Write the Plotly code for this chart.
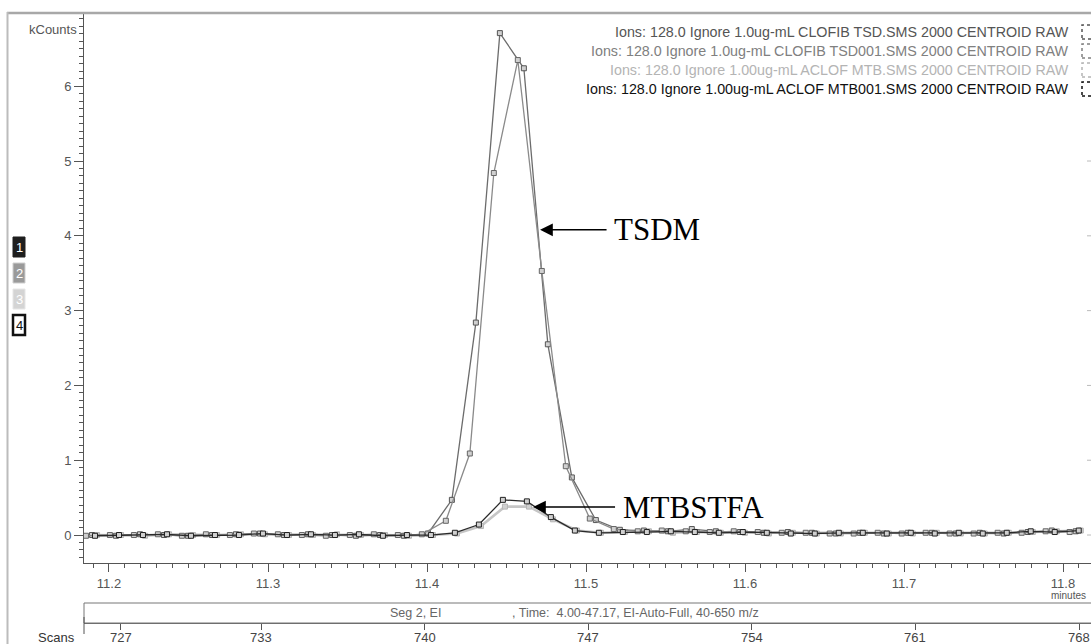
import numpy as np
import plotly.graph_objects as go

# ---------------- data ----------------
scan_interval_min = 0.01509          # minutes between successive scans
rt_start = {"TSD": 11.1893, "TSD001": 11.1855, "MTB": 11.1925, "MTB001": 11.1912}

tsd = [0.00, -0.01, 0.01, 0.00, -0.01, 0.00, 0.01, 0.02, 0.00, 0.01, 0.00, -0.01, 0.00, -0.01,
       0.02, 0.47, 2.84, 6.71, 6.24, 2.55, 0.77, 0.20, 0.07,
       0.06, 0.05, 0.08, 0.05, 0.04, 0.03, 0.04, 0.03, 0.02, 0.03, 0.02, 0.03, 0.03, 0.02, 0.03,
       0.02, 0.04, 0.06, 0.05]
tsd001 = [-0.01, 0.00, 0.00, 0.01, -0.01, 0.01, 0.00, 0.02, 0.01, 0.00, -0.01, 0.00, 0.01, 0.00,
          0.01, 0.19, 1.09, 4.84, 6.35, 3.53, 0.92, 0.22, 0.08,
          0.05, 0.06, 0.05, 0.04, 0.05, 0.04, 0.03, 0.03, 0.02, 0.02, 0.03, 0.02, 0.03, 0.02, 0.02,
          0.03, 0.03, 0.05, 0.04]
mtb = [0.00, 0.00, -0.01, 0.01, 0.00, 0.00, 0.01, 0.01, 0.00, 0.00, 0.01, 0.00, 0.00, -0.01, 0.00,
       0.02, 0.12, 0.38, 0.38, 0.21, 0.06,
       0.03, 0.04, 0.05, 0.03, 0.04, 0.03, 0.03, 0.02, 0.03, 0.02, 0.02, 0.03, 0.02, 0.02, 0.03,
       0.02, 0.02, 0.03, 0.04, 0.05, 0.06]
mtb001 = [-0.01, 0.00, 0.00, 0.01, -0.01, 0.00, 0.00, 0.02, 0.00, 0.01, 0.00, 0.01, -0.01, 0.00, 0.00,
          0.03, 0.14, 0.47, 0.45, 0.24, 0.06,
          0.03, 0.04, 0.04, 0.05, 0.04, 0.03, 0.04, 0.03, 0.02, 0.02, 0.03, 0.03, 0.02, 0.03, 0.02,
          0.03, 0.02, 0.03, 0.05, 0.04, 0.06]

legend_labels = [
    "Ions: 128.0 Ignore 1.0ug-mL CLOFIB TSD.SMS 2000 CENTROID RAW",
    "Ions: 128.0 Ignore 1.0ug-mL CLOFIB TSD001.SMS 2000 CENTROID RAW",
    "Ions: 128.0 Ignore 1.00ug-mL ACLOF MTB.SMS 2000 CENTROID RAW",
    "Ions: 128.0 Ignore 1.00ug-mL ACLOF MTB001.SMS 2000 CENTROID RAW",
]
scan_ticks = [727, 733, 740, 747, 754, 761, 768]
time_ticks = [11.2, 11.3, 11.4, 11.5, 11.6, 11.7, 11.8]
kcount_ticks = [0, 1, 2, 3, 4, 5, 6]
segment_text = "Seg 2, EI"
time_text = ", Time:  4.00-47.17, EI-Auto-Full, 40-650 m/z"

# ---------------- layout geometry ----------------
W, H = 1091, 644
L, R, T, B = 84, 0, 13, 21
PW, PH = W - L - R, H - T - B


def px(x):
    return (x - L) / PW


def py(y):
    return (H - B - y) / PH


def rt(name, vals):
    return rt_start[name] + scan_interval_min * np.arange(len(vals))


series = [
    ("MTB", mtb, "#c6c6c6", 2.6, "#b5b5b5"),
    ("TSD", tsd, "#6c6c6c", 1.3, "#555555"),
    ("TSD001", tsd001, "#8a8a8a", 1.3, "#666666"),
    ("MTB001", mtb001, "#2a2a2a", 1.3, "#222222"),
]

fig = go.Figure()
for name, vals, col, lw, mcol in series:
    fig.add_trace(go.Scatter(
        x=rt(name, vals), y=vals, mode="lines+markers", name=name,
        line=dict(color=col, width=lw),
        marker=dict(symbol="square", size=5, color="#d0d0d0", line=dict(color=mcol, width=1)),
        showlegend=False, hoverinfo="skip"))

# dummy trace to create the scan axis
fig.add_trace(go.Scatter(x=[scan_ticks[0]], y=[None], xaxis="x2", yaxis="y",
                         mode="markers", showlegend=False, hoverinfo="skip"))

y0_dom = py(563)
fig.update_layout(
    width=W, height=H,
    margin=dict(l=L, r=R, t=T, b=B),
    paper_bgcolor="white", plot_bgcolor="white",
    font=dict(family="Liberation Sans, Arial, sans-serif", color="#555"),
    xaxis=dict(range=[11.18428, 11.81761], anchor="y",
               tickvals=time_ticks, ticktext=[f"{v:.1f}" for v in time_ticks],
               ticks="outside", ticklen=8, tickwidth=1, tickcolor="#555",
               showline=True, linecolor="#555", linewidth=1,
               showgrid=False, zeroline=False,
               tickfont=dict(size=13, color="#555"),
               minor=dict(tick0=11.2, dtick=0.01, ticks="outside", ticklen=4,
                          tickcolor="#555", showgrid=False)),
    xaxis2=dict(range=[725.42, 768.51], overlaying="x", anchor="free", position=0,
                side="bottom", tickvals=scan_ticks, ticks="outside", ticklen=6,
                tickcolor="#555", showline=True, linecolor="#666", linewidth=1,
                showgrid=False, zeroline=False, showticklabels=False),
    yaxis=dict(range=[-0.374, 6.979], domain=[y0_dom, 1],
               tickvals=kcount_ticks, ticks="outside", ticklen=9, tickcolor="#555",
               showline=True, linecolor="#555", linewidth=1,
               showgrid=False, zeroline=False,
               tickfont=dict(size=13, color="#555"),
               minor=dict(tick0=0, dtick=0.1, ticks="outside", ticklen=4,
                          tickcolor="#555", showgrid=False)),
)

shapes = []
# outer frame (top and left)
shapes.append(dict(type="line", xref="paper", yref="paper", x0=px(7), x1=px(W + 2),
                   y0=py(13), y1=py(13), line=dict(color="#a8a8a8", width=2.5)))
shapes.append(dict(type="line", xref="paper", yref="paper", x0=px(7.5), x1=px(7.5),
                   y0=py(12), y1=py(H + 2), line=dict(color="#bcbcbc", width=2)))
# segment bar
shapes.append(dict(type="rect", xref="paper", yref="paper", x0=px(84), x1=px(W + 5),
                   y0=py(623), y1=py(603), line=dict(color="#777", width=1)))
# left tick of scan scale
shapes.append(dict(type="line", xref="paper", yref="paper", x0=px(84), x1=px(84),
                   y0=py(617), y1=py(634), line=dict(color="#555", width=1)))
# right-edge tick marks (clipped right axis)
for v in kcount_ticks[:-1]:
    shapes.append(dict(type="line", xref="paper", yref="y", x0=px(1087), x1=px(1091),
                       y0=v, y1=v, line=dict(color="#bbb", width=1)))

# trace selector boxes at left
box_specs = [("1", "#1e1e1e", "#1e1e1e", "white", 1),
             ("2", "#9a9a9a", "#cfcfcf", "white", 1),
             ("3", "#d4d4d4", "#e6e6e6", "white", 1),
             ("4", "white", "#111", "#111", 2.5)]
box_tops = [237, 263, 289, 315]
annotations = []
for (lab, fill, edge, tcol, ew), top in zip(box_specs, box_tops):
    shapes.append(dict(type="rect", xref="paper", yref="paper", x0=px(13), x1=px(25),
                       y0=py(top + 20), y1=py(top), fillcolor=fill,
                       line=dict(color=edge, width=ew)))
    annotations.append(dict(xref="paper", yref="paper", x=px(19), y=py(top + 10),
                            xanchor="center", yanchor="middle",
                            text=lab, showarrow=False,
                            font=dict(size=13, color=tcol, family="Liberation Sans")))

# legend texts and clipped boxes
legend_colors = ["#555", "#808080", "#b4b4b4", "#111"]
legend_y = [32, 51, 70, 89]
for lab, col, yy in zip(legend_labels, legend_colors, legend_y):
    annotations.append(dict(xref="paper", yref="paper", x=px(1071), y=py(yy),
                            xanchor="right", yanchor="middle", text=lab, showarrow=False,
                            font=dict(size=14.3, color=col)))
    shapes.append(dict(type="rect", xref="paper", yref="paper", x0=px(1082), x1=px(W + 6),
                       y0=py(yy + 7), y1=py(yy - 7), fillcolor="white",
                       line=dict(color=col, width=1.5, dash="dot")))

# scan-number labels (drawn on the scan axis scale)
for s in scan_ticks:
    annotations.append(dict(xref="x2", yref="paper", x=s, y=py(637),
                            xanchor="center", yanchor="middle", text=str(s),
                            showarrow=False, font=dict(size=13, color="#444")))

# axis captions
annotations += [
    dict(xref="paper", yref="paper", x=px(79), y=py(30), xanchor="right", yanchor="middle",
         text="kCounts", showarrow=False, font=dict(size=13, color="#555")),
    dict(xref="paper", yref="paper", x=px(W - 3), y=py(595), xanchor="right", yanchor="middle",
         text="minutes", showarrow=False, font=dict(size=10, color="#555")),
    dict(xref="paper", yref="paper", x=px(77), y=py(637), xanchor="right", yanchor="middle",
         text="Scans", showarrow=False, font=dict(size=13, color="#333")),
    dict(xref="paper", yref="paper", x=px(388), y=py(613), xanchor="left", yanchor="middle",
         text=segment_text, showarrow=False, font=dict(size=12.5, color="#666")),
    dict(xref="paper", yref="paper", x=px(510), y=py(613), xanchor="left", yanchor="middle",
         text=time_text, showarrow=False, font=dict(size=12.5, color="#666")),
]

# peak labels with arrows
serif = dict(family="Liberation Serif, Times New Roman, serif", size=31, color="black")
annotations += [
    dict(x=11.4711, y=4.08, xref="x", yref="y", text="TSDM", font=serif,
         showarrow=True, ax=117, ay=0, arrowhead=2, arrowsize=1.7, arrowwidth=1.5,
         arrowcolor="black", standoff=0, startstandoff=6),
    dict(x=11.4667, y=0.374, xref="x", yref="y", text="MTBSTFA", font=serif,
         showarrow=True, ax=160, ay=0, arrowhead=2, arrowsize=1.7, arrowwidth=1.5,
         arrowcolor="black", standoff=0, startstandoff=6),
]

fig.update_layout(shapes=shapes, annotations=annotations)
fig.write_html("out.html",
               config={"displayModeBar": False, "staticPlot": True},
               post_script="document.body.style.margin='0';document.body.style.overflow='hidden';")
